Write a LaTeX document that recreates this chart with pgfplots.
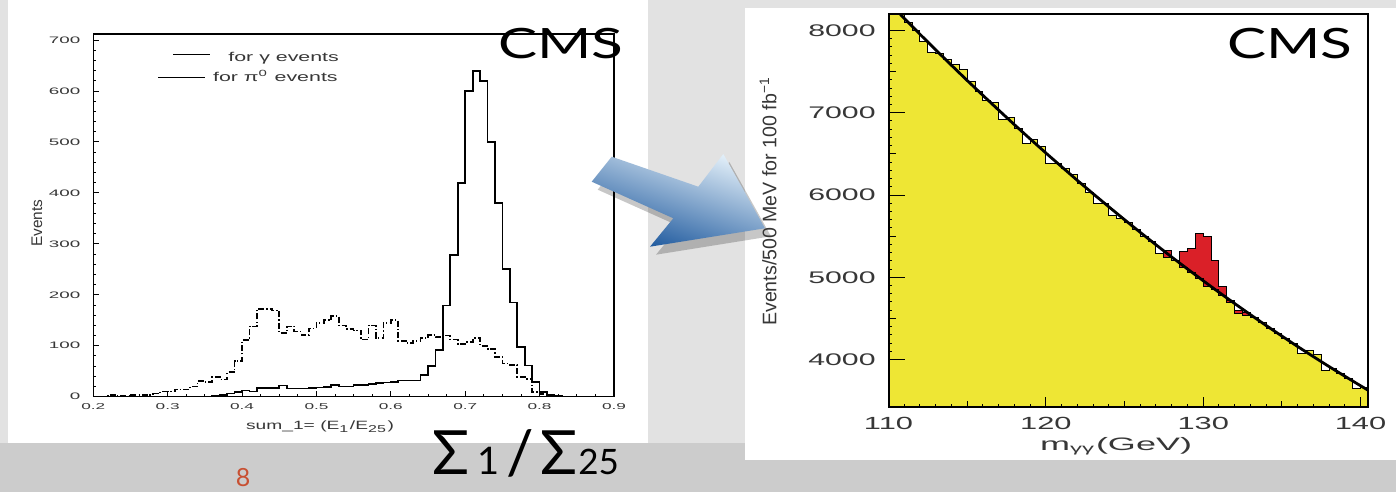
\documentclass[border=0pt]{standalone}
\usepackage{pgfplots}
\pgfplotsset{compat=1.18}
\usepackage{fontspec}
\setmainfont{Liberation Sans}
\newfontfamily\lato{Lato}
\usepackage{graphicx}
\newcommand{\sx}[2]{\scalebox{#1}[1]{#2}}
\definecolor{bgc}{RGB}{226,226,226}
\definecolor{bgd}{RGB}{204,204,204}
\definecolor{yel}{RGB}{238,230,52}
\definecolor{sig}{RGB}{218,32,40}
\definecolor{arrL}{RGB}{225,238,248}
\definecolor{arrM}{RGB}{125,170,212}
\definecolor{arrD}{RGB}{25,85,155}
\definecolor{slnum}{RGB}{200,80,50}
\definecolor{tk}{RGB}{55,55,55}

\begin{document}
\begin{tikzpicture}
\useasboundingbox (0,0) rectangle (698pt,246pt);
\fill[bgc] (0,0) rectangle (698pt,246pt);
\fill[bgd] (0,0) rectangle (698pt,24.5pt);
\fill[white] (4.2pt,24.5pt) rectangle (324pt,246pt);
\fill[white] (372.5pt,16pt) rectangle (698pt,242pt);

% ---------------- left histogram ----------------
\begin{axis}[
  at={(46.65pt,47.65pt)}, anchor=south west, scale only axis,
  width=260.35pt, height=181.35pt,
  xmin=0.2, xmax=0.9, ymin=0, ymax=712,
  axis on top,
  axis line style={line width=0.7pt},
  tick align=inside, xtick pos=left, ytick pos=left,
  tick style={black, line width=0.5pt},
  major tick length=2.6pt, minor tick length=1.4pt,
  xtick={0.2,0.3,0.4,0.5,0.6,0.7,0.8,0.9},
  xticklabels={\sx{2}{0.2},\sx{2}{0.3},\sx{2}{0.4},\sx{2}{0.5},\sx{2}{0.6},\sx{2}{0.7},\sx{2}{0.8},\sx{2}{0.9}},
  minor x tick num=3,
  ytick={0,100,200,300,400,500,600,700},
  yticklabels={\sx{2}{0},\sx{2}{100},\sx{2}{200},\sx{2}{300},\sx{2}{400},\sx{2}{500},\sx{2}{600},\sx{2}{700}},
  minor y tick num=4,
  xticklabel style={font=\fontsize{4.3}{5}\selectfont, text=tk, inner sep=0pt, anchor=north, yshift=-3.2pt},
  yticklabel style={font=\fontsize{4.7}{5}\selectfont, text=tk, inner sep=0pt, anchor=east, xshift=-6.3pt},
]
\addplot[const plot, black, line width=0.85pt, dash pattern=on 3pt off 1.1pt on 0.6pt off 1.1pt] coordinates {
(0.21,0) (0.22,4) (0.23,1) (0.24,1) (0.25,4) (0.26,4) (0.27,4) (0.28,6) (0.29,10) (0.30,10)
(0.31,14) (0.32,14) (0.33,20) (0.34,31) (0.35,29) (0.36,39) (0.37,34) (0.38,48) (0.39,70) (0.40,111)
(0.41,138) (0.42,172) (0.43,172) (0.44,169) (0.45,125) (0.46,138) (0.47,128) (0.48,121) (0.49,134) (0.50,145)
(0.51,150) (0.52,158) (0.53,140) (0.54,133) (0.55,130) (0.56,112) (0.57,140) (0.58,115) (0.59,145) (0.60,150)
(0.61,110) (0.62,105) (0.63,110) (0.64,115) (0.65,121) (0.66,117) (0.67,120) (0.68,112) (0.69,104) (0.70,108)
(0.71,115) (0.72,100) (0.73,94) (0.74,78) (0.75,65) (0.76,62) (0.77,38) (0.78,35) (0.79,9) (0.80,5)
(0.81,4) (0.82,2) (0.83,0)};
\addplot[const plot, black, line width=0.85pt] coordinates {
(0.35,0) (0.36,1) (0.37,4) (0.38,6) (0.39,9) (0.40,12) (0.41,10) (0.42,17) (0.43,17) (0.44,17)
(0.45,22) (0.46,16) (0.47,16) (0.48,16) (0.49,17) (0.50,18) (0.51,19) (0.52,23) (0.53,20) (0.54,20)
(0.55,23) (0.56,23) (0.57,25) (0.58,27) (0.59,28) (0.60,29) (0.61,32) (0.62,32) (0.63,32) (0.64,42)
(0.65,60) (0.66,91) (0.67,179) (0.68,278) (0.69,420) (0.70,600) (0.71,640) (0.72,620) (0.73,500) (0.74,380)
(0.75,250) (0.76,185) (0.77,97) (0.78,61) (0.79,29) (0.80,9) (0.81,3) (0.82,2) (0.83,0)};
\end{axis}
% left labels and legend
\node[rotate=90, font=\fontsize{7.7}{8}\selectfont, text=tk, inner sep=0pt] at (18.5pt,134.5pt) {Events};
\node[anchor=base, font=\fontsize{6}{7}\selectfont, text=tk, inner sep=0pt] at (160pt,31pt)
  {\sx{1.6}{sum\_1= (E\textsubscript{1}/E\textsubscript{25})}};
\draw[black, line width=0.6pt] (86.5pt,218.85pt) -- (105pt,218.85pt);
\node[anchor=base west, font=\fontsize{6.4}{7}\selectfont, text=tk, inner sep=0pt] at (114pt,215.15pt) {\sx{1.67}{for γ events}};
\draw[black, line width=0.6pt] (79pt,207.15pt) -- (102.5pt,207.15pt);
\node[anchor=base west, font=\fontsize{6.4}{7}\selectfont, text=tk, inner sep=0pt] at (106.35pt,205.15pt) {\sx{1.67}{for π\textsuperscript{0} events}};
\node[inner sep=0pt, font=\lato\fontsize{20.9}{22}\selectfont] at (280.5pt,224.35pt) {\sx{1.4}{CMS}};

% ---------------- arrow ----------------
\fill[black, opacity=0.22] ([shift={(3pt,-4pt)}]305.85pt,167.65pt) -- ([shift={(3pt,-4pt)}]349.15pt,152.65pt) -- ([shift={(3pt,-4pt)}]361.65pt,169pt) -- ([shift={(3pt,-4pt)}]382.5pt,131.85pt) -- ([shift={(3pt,-4pt)}]325pt,122.65pt) -- ([shift={(3pt,-4pt)}]336.65pt,136.85pt) -- ([shift={(3pt,-4pt)}]295.85pt,155.15pt) -- cycle;
\shade[top color=arrL, middle color=arrM, bottom color=arrD, shading angle=-19]
  (305.85pt,167.65pt) -- (349.15pt,152.65pt) -- (361.65pt,169pt) -- (382.5pt,131.85pt) -- (325pt,122.65pt) -- (336.65pt,136.85pt) -- (295.85pt,155.15pt) -- cycle;

% ---------------- right histogram ----------------
\begin{axis}[
  at={(444.25pt,42.35pt)}, anchor=south west, scale only axis,
  width=239.55pt, height=196.65pt,
  xmin=110, xmax=140.45, ymin=3420, ymax=8200,
  axis on top,
  axis line style={line width=1pt},
  tick align=inside, xtick pos=left, ytick pos=left,
  tick style={black, line width=0.5pt},
  xtick={110,120,130,140},
  xticklabels={\sx{1.75}{110},\sx{1.75}{120},\sx{1.75}{130},\sx{1.75}{140}},
  minor x tick num=9,
  xtick style={/pgfplots/major tick length=5pt, /pgfplots/minor tick length=1.5pt},
  extra x ticks={115,125,135}, extra x tick labels={},
  extra x tick style={xtick style={/pgfplots/major tick length=3pt}},
  ytick={4000,5000,6000,7000,8000},
  yticklabels={\sx{1.8}{4000},\sx{1.8}{5000},\sx{1.8}{6000},\sx{1.8}{7000},\sx{1.8}{8000}},
  minor y tick num=9,
  ytick style={/pgfplots/major tick length=8pt, /pgfplots/minor tick length=1.5pt},
  extra y ticks={4500,5500,6500,7500}, extra y tick labels={},
  extra y tick style={ytick style={/pgfplots/major tick length=3.5pt}},
  xticklabel style={font=\fontsize{8.8}{10}\selectfont, text=tk, inner sep=0pt, anchor=north, yshift=-4.85pt},
  yticklabel style={font=\fontsize{8.4}{10}\selectfont, text=tk, inner sep=0pt, anchor=east, xshift=-6.25pt},
]
\addplot[const plot, fill=sig, draw=black, line width=0.5pt] coordinates {
(127.5,5330) (128,5210) (128.5,5310) (129,5350) (129.5,5533) (130,5492) (130.5,5209) (131,4885)
(131.5,4723) (132,4600) (132.5,4570) (133,4512)} \closedcycle;
\addplot[const plot, fill=yel, draw=black, line width=0.5pt] coordinates {
(110,8290) (110.5,8200) (111,8098) (111.5,8002) (112,7870) (112.5,7730) (113,7717) (113.5,7650)
(114,7590) (114.5,7528) (115,7376) (115.5,7256) (116,7150) (116.5,7126) (117,6917) (117.5,6940)
(118,6812) (118.5,6625) (119,6670) (119.5,6585) (120,6380) (120.5,6385) (121,6320) (121.5,6250)
(122,6137) (122.5,6036) (123,5896) (123.5,5896) (124,5747) (124.5,5720) (125,5661) (125.5,5584)
(126,5490) (126.5,5432) (127,5290) (127.5,5240) (128,5210) (128.5,5120) (129,5060) (129.5,4990)
(130,4890) (130.5,4850) (131,4780) (131.5,4690) (132,4560) (132.5,4540) (133,4512) (133.5,4446)
(134,4381) (134.5,4317) (135,4253) (135.5,4190) (136,4070) (136.5,4106) (137,4065) (137.5,3865)
(138,3886) (138.5,3828) (139,3770) (139.5,3643) (140,3657) (140.5,3657)} \closedcycle;
\addplot[black, line width=1.4pt] coordinates {
(110,8343) (111,8147) (112,7954) (113,7764) (114,7577) (115,7392) (116,7211) (117,7032)
(118,6855) (119,6682) (120,6511) (121,6344) (122,6178) (123,6016) (124,5857) (125,5700)
(126,5546) (127,5395) (128,5246) (129,5101) (130,4958) (131,4818) (132,4681) (133,4546)
(134,4414) (135,4286) (136,4159) (137,4036) (138,3915) (139,3798) (140,3682) (140.45,3631)};
\end{axis}
\node[rotate=90, font=\fontsize{9.8}{11}\selectfont, text=tk, inner sep=0pt] at (384pt,145.25pt) {Events/500 MeV for 100 fb\textsuperscript{−1}};
\node[anchor=base, font=\fontsize{9}{10}\selectfont, text=tk, inner sep=0pt] at (558pt,20.5pt) {\sx{2}{m\textsubscript{γγ}(GeV)}};
\node[inner sep=0pt, font=\lato\fontsize{20.9}{22}\selectfont] at (645pt,224pt) {\sx{1.4}{CMS}};

% ---------------- slide texts ----------------
\node[anchor=base west, inner sep=0pt, font=\lato\fontsize{30.5}{32}\selectfont] at (215.85pt,9pt) {Σ};
\node[anchor=base west, inner sep=0pt, font=\lato\fontsize{19}{21}\selectfont] at (238.5pt,9pt) {1};
\node[anchor=base west, inner sep=0pt, font=\lato\fontsize{30.5}{32}\selectfont] at (253pt,9pt) {/};
\node[anchor=base west, inner sep=0pt, font=\lato\fontsize{30.5}{32}\selectfont] at (270pt,9pt) {Σ};
\node[anchor=base west, inner sep=0pt, font=\lato\fontsize{17.5}{19}\selectfont] at (289pt,9pt) {25};
\node[inner sep=0pt, text=slnum, font=\lato\fontsize{12.5}{14}\selectfont] at (121.5pt,7pt) {8};
\end{tikzpicture}
\end{document}
